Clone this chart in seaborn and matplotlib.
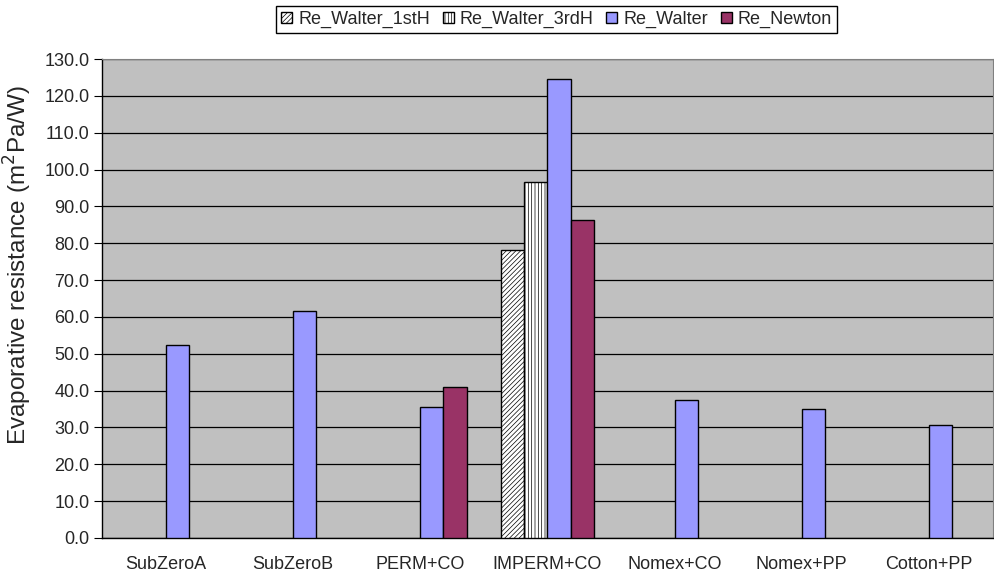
import matplotlib
matplotlib.use("Agg")
import matplotlib.pyplot as plt
from matplotlib.patches import Patch
import numpy as np
import pandas as pd
import seaborn as sns

sns.set_style("white")
plt.rcParams['font.family'] = ['Liberation Sans', 'DejaVu Sans']
plt.rcParams['hatch.linewidth'] = 0.5

# data
categories = ["SubZeroA", "SubZeroB", "PERM+CO", "IMPERM+CO", "Nomex+CO", "Nomex+PP", "Cotton+PP"]
series = ["Re_Walter_1stH", "Re_Walter_3rdH", "Re_Walter", "Re_Newton"]
walter_1st = [np.nan, np.nan, np.nan, 78.1, np.nan, np.nan, np.nan]
walter_3rd = [np.nan, np.nan, np.nan, 96.7, np.nan, np.nan, np.nan]
walter = [52.3, 61.6, 35.6, 124.7, 37.5, 34.9, 30.8]
newton = [np.nan, np.nan, 41.1, 86.2, np.nan, np.nan, np.nan]

rows = []
for name, vals in zip(series, [walter_1st, walter_3rd, walter, newton]):
    for c, v in zip(categories, vals):
        rows.append({"cat": c, "series": name, "value": v})
dados = pd.DataFrame(rows)

colors = {"Re_Walter_1stH": "white", "Re_Walter_3rdH": "white",
          "Re_Walter": "#9999FF", "Re_Newton": "#993366"}
hatches = ["///////", "|||||", None, None]

fig = plt.figure(figsize=(9.94, 5.77), dpi=100)
ax = fig.add_axes([0.1026, 0.0676, 0.896, 0.830])
ax.set_facecolor("#C0C0C0")

sns.barplot(data=dados, x="cat", y="value", hue="series", order=categories,
            hue_order=series, palette=colors, width=0.73, errorbar=None,
            edgecolor="black", linewidth=1.0, saturation=1, legend=False, ax=ax, zorder=3)

for cont, h in zip(ax.containers, hatches):
    if h:
        for p in cont:
            p.set_hatch(h)

ax.set_ylim(0, 130)
ax.set_xlim(-0.5, len(categories) - 0.5)
ax.set_yticks(np.arange(0, 131, 10))
ax.set_yticklabels([f"{v:.1f}" for v in np.arange(0, 131, 10)], fontsize=13)
ax.yaxis.grid(True, color="black", linewidth=0.9, zorder=1)
ax.set_axisbelow(True)

ax.set_xticks(range(len(categories)))
ax.set_xticklabels(categories, fontsize=13)
ax.tick_params(axis="x", length=0, pad=13)
ax.set_xticks(np.arange(-0.5, len(categories), 1), minor=True)
ax.tick_params(axis="x", which="minor", length=5, color="black", width=0.8)
ax.tick_params(axis="y", length=6, color="black", width=0.8, left=True, pad=3)

ax.set_xlabel("")
ax.set_ylabel("Evaporative resistance (m$^2$Pa/W)", fontsize=17.5)
ax.yaxis.set_label_coords(-0.076, 0.57)

for s in ["top", "right"]:
    ax.spines[s].set_color("#808080")
for s in ["left", "bottom"]:
    ax.spines[s].set_color("black")
    ax.spines[s].set_linewidth(1.0)

handles = [Patch(facecolor=colors[n], edgecolor="black", hatch=h, label=n)
           for n, h in zip(series, hatches)]
fig.legend(handles=handles, loc="center", bbox_to_anchor=(0.56, 0.966), ncol=4,
           fontsize=13, frameon=True, fancybox=False, edgecolor="black",
           handlelength=0.6, handleheight=0.6, handletextpad=0.35, columnspacing=0.7,
           borderpad=0.28, borderaxespad=0, framealpha=1)

fig.savefig("out.png", dpi=100)
